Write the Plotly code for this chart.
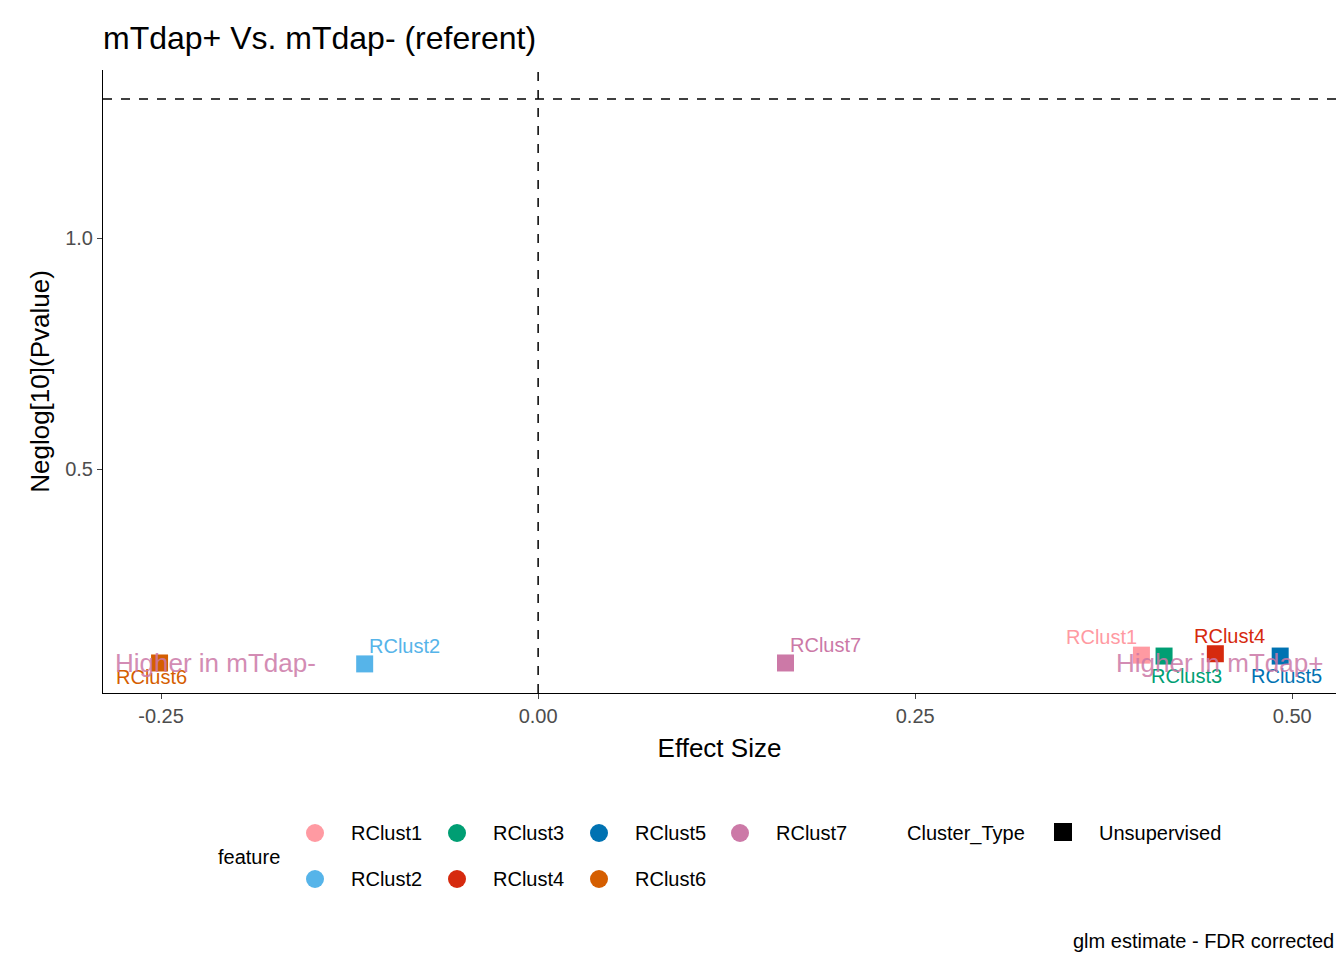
import plotly.graph_objects as go

features = ["RClust1", "RClust2", "RClust3", "RClust4", "RClust5", "RClust6", "RClust7"]
effect = [0.400, -0.115, 0.415, 0.449, 0.492, -0.251, 0.164]
neglog_p = [0.097, 0.078, 0.095, 0.100, 0.095, 0.080, 0.080]
colors = ["#FF9AA2", "#56B4E9", "#009E73", "#D62A0E", "#0072B2", "#D55E00", "#CC79A7"]
label_dy = [18, 18, -20, 18, -20, -14, 18]  # pixel offset for labels
label_dx = [-40, 40, 22, 14, 6, -8, 40]

L, R, T, B = 95, 16, 62, 275
PW, PH = 1344 - L - R, 960 - T - B


def px(x):
    return (x - L) / PW


def py(y):
    return (960 - B - y) / PH


fig = go.Figure()
for f, x, y, c, dy, dx in zip(features, effect, neglog_p, colors, label_dy, label_dx):
    fig.add_trace(go.Scatter(x=[x], y=[y], mode="markers", showlegend=False,
                             marker=dict(symbol="square", size=17, color=c)))
    fig.add_annotation(x=x, y=y, text=f, showarrow=False, xshift=dx, yshift=dy,
                       font=dict(size=20, color=c))

fig.add_annotation(x=-0.214, y=0.08, text="Higher in mTdap-", showarrow=False,
                   font=dict(size=26, color="#CC79A7"), opacity=0.85)
fig.add_annotation(x=0.452, y=0.08, text="Higher in mTdap+", showarrow=False,
                   font=dict(size=26, color="#CC79A7"), opacity=0.85)

fig.add_vline(x=0, line=dict(dash="dash", color="black", width=1.5))
fig.add_hline(y=1.301, line=dict(dash="dash", color="black", width=1.5))

# manual legend (column-major like ggplot)
legend_pos = [(307, 825), (307, 871), (449, 825), (449, 871), (591, 825), (591, 871), (732, 825)]
for f, c, (lx, ly) in zip(features, colors, legend_pos):
    fig.add_shape(type="circle", xref="paper", yref="paper", xsizemode="pixel",
                  ysizemode="pixel", xanchor=px(lx), yanchor=py(ly),
                  x0=-9, x1=9, y0=-9, y1=9, fillcolor=c, line=dict(width=0))
    fig.add_annotation(xref="paper", yref="paper", x=px(lx + 34), y=py(ly), text=f,
                       showarrow=False, xanchor="left", yanchor="middle",
                       font=dict(size=20))
fig.add_shape(type="rect", xref="paper", yref="paper", xsizemode="pixel",
              ysizemode="pixel", xanchor=px(1055), yanchor=py(824),
              x0=-9, x1=9, y0=-9, y1=9, fillcolor="black", line=dict(width=0))
fig.add_annotation(xref="paper", yref="paper", x=px(1089), y=py(825), text="Unsupervised",
                   showarrow=False, xanchor="left", yanchor="middle", font=dict(size=20))
fig.add_annotation(xref="paper", yref="paper", x=px(208), y=py(849), text="feature",
                   showarrow=False, xanchor="left", yanchor="middle", font=dict(size=20))
fig.add_annotation(xref="paper", yref="paper", x=px(897), y=py(825), text="Cluster_Type",
                   showarrow=False, xanchor="left", yanchor="middle", font=dict(size=20))
fig.add_annotation(xref="paper", yref="paper", x=1.0, y=py(933),
                   text="glm estimate - FDR corrected", showarrow=False,
                   xanchor="right", yanchor="middle", font=dict(size=20))

fig.update_layout(
    width=1344, height=960, plot_bgcolor="white", paper_bgcolor="white",
    margin=dict(l=L, r=R, t=T, b=B), showlegend=False,
    font=dict(family="Liberation Sans, Arial", color="black"),
    title=dict(text="mTdap+ Vs. mTdap- (referent)", x=L / 1344, xanchor="left",
               y=1 - 30 / 960, yanchor="middle", font=dict(size=32)),
    xaxis=dict(range=[-0.2885, 0.529], tickvals=[-0.25, 0, 0.25, 0.5],
               ticktext=["-0.25", "0.00", "0.25", "0.50"], showgrid=False,
               zeroline=False, showline=True, linecolor="black", ticks="outside",
               automargin=False, tickfont=dict(size=20, color="#4D4D4D"),
               title=dict(text="Effect Size", font=dict(size=26), standoff=12)),
    yaxis=dict(range=[0.015, 1.364], tickvals=[0.5, 1.0], ticktext=["0.5", "1.0"],
               showgrid=False, zeroline=False, showline=True, linecolor="black",
               ticks="outside", automargin=False, tickfont=dict(size=20, color="#4D4D4D"),
               title=dict(text="Neglog[10](Pvalue)", font=dict(size=26), standoff=8)),
)

fig.write_html("out.html")
